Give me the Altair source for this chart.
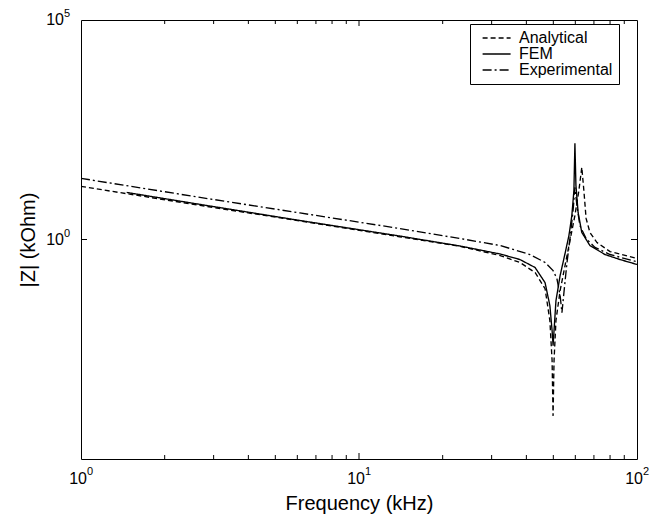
import altair as alt
import pandas as pd

# ---- data (frequency in kHz, |Z| in kOhm) ----
series_names = ["Analytical", "FEM", "Experimental"]

analytical_f = [1.0, 2.68, 6.13, 14.0, 23.1, 32.2, 37.9, 43.0, 46.7, 48.6, 49.5, 49.9,
                50.3, 51.1, 52.9, 55.1, 57.4, 59.8, 61.8, 63.3, 64.4, 65.6, 67.7, 71.8,
                80.0, 100.0]
analytical_z = [16.2, 6.0, 2.64, 1.15, 0.70, 0.43, 0.30, 0.177, 0.076, 0.0142, 0.00173, 0.000096,
                0.00173, 0.0142, 0.0685, 0.255, 0.95, 3.53, 13.1, 44.0, 13.1, 3.02, 1.45, 0.85,
                0.53, 0.37]

fem_f = [1.46, 2.68, 6.13, 14.0, 23.1, 32.2, 37.9, 43.0, 46.7, 48.6, 49.5, 49.9,
         50.3, 51.1, 52.9, 55.1, 56.9, 58.3, 59.3, 59.8, 60.3, 61.4, 63.3, 67.7,
         76.7, 86.8, 100.0]
fem_z = [11.8, 6.3, 2.71, 1.20, 0.71, 0.467, 0.35, 0.23, 0.104, 0.031, 0.0084, 0.0038,
         0.0084, 0.040, 0.151, 0.48, 1.23, 3.53, 13.1, 156.0, 17.1, 4.13, 1.45, 0.73,
         0.455, 0.35, 0.27]

exp_f = [1.0, 2.68, 6.13, 14.0, 23.1, 32.2, 41.2, 46.7, 49.9, 51.5, 52.9, 53.7,
         54.6, 56.0, 57.4, 58.9, 59.8, 60.8, 62.3, 65.6, 70.6, 80.0, 100.0]
exp_z = [24.7, 9.1, 4.03, 1.78, 1.05, 0.73, 0.455, 0.30, 0.196, 0.129, 0.053, 0.0216,
         0.062, 0.30, 1.05, 4.59, 15.4, 5.97, 2.09, 1.05, 0.66, 0.455, 0.31]

# axis ticks and tick labels (base 10 with superscript exponent)
x_minor_ticks = [2, 3, 4, 5, 6, 7, 8, 9, 20, 30, 40, 50, 60, 70, 80, 90]
x_major_ticks = [10]
y_ticks = [1]
x_label_values = [1, 10, 100]
x_label_base = ["10", "10", "10"]
x_label_exp = ["0", "1", "2"]
y_label_values = [1, 100000]
y_label_base = ["10", "10"]
y_label_exp = ["0", "5"]

rows = []
for name, fs, zs in [("Analytical", analytical_f, analytical_z),
                     ("FEM", fem_f, fem_z),
                     ("Experimental", exp_f, exp_z)]:
    for i, (f, z) in enumerate(zip(fs, zs)):
        rows.append({"series": name, "f": f, "z": z, "i": i})
df = pd.DataFrame(rows)

W, H = 556, 439
FONT = "Liberation Sans"

xscale = alt.Scale(type="log", domain=[1, 100], nice=False)
yscale = alt.Scale(type="log", domain=[1e-5, 1e5], nice=False)

xaxis = alt.Axis(values=[1, 10, 100], ticks=False, domain=False, grid=False, labels=False,
                 title="Frequency (kHz)", titleFont=FONT, titleFontSize=20,
                 titleFontWeight="normal", titleColor="black", titlePadding=34)
yaxis = alt.Axis(values=[1, 100000], ticks=False, domain=False, grid=False, labels=False,
                 title="|Z| (kOhm)", titleFont=FONT, titleFontSize=20,
                 titleFontWeight="normal", titleColor="black", titlePadding=43)

lines = alt.Chart(df).mark_line(color="black", strokeWidth=1.35, clip=True).encode(
    x=alt.X("f:Q", scale=xscale, axis=xaxis),
    y=alt.Y("z:Q", scale=yscale, axis=yaxis),
    strokeDash=alt.StrokeDash("series:N",
                              scale=alt.Scale(domain=series_names,
                                              range=[[5, 3], [1, 0], [9, 3, 2, 3]]),
                              legend=alt.Legend(title=None, orient="none", legendX=389, legendY=4,
                                                symbolType="M-0.2,0H3.8", symbolStrokeColor="black",
                                                symbolStrokeWidth=1.3, symbolSize=196,
                                                labelFont=FONT, labelFontSize=16, labelColor="black",
                                                labelExpr="datum.label + '        '",
                                                strokeColor="black", fillColor="white",
                                                padding=6, rowPadding=-1, labelOffset=27)),
    order="i:Q",
)

tick_df_minor = pd.DataFrame({"f": x_minor_ticks})
tick_df_major = pd.DataFrame({"f": x_major_ticks})
ytick_df = pd.DataFrame({"z": y_ticks})

def xticks(data, length):
    base = alt.Chart(data)
    bottom = base.mark_rule(color="black", strokeWidth=1).encode(
        x=alt.X("f:Q", scale=xscale, axis=xaxis), y=alt.value(H), y2=alt.value(H - length))
    top = base.mark_rule(color="black", strokeWidth=1).encode(
        x=alt.X("f:Q", scale=xscale, axis=xaxis), y=alt.value(0), y2=alt.value(length))
    return bottom + top

yt = alt.Chart(ytick_df)
yleft = yt.mark_rule(color="black", strokeWidth=1).encode(
    y=alt.Y("z:Q", scale=yscale, axis=yaxis), x=alt.value(0), x2=alt.value(6))
yright = yt.mark_rule(color="black", strokeWidth=1).encode(
    y=alt.Y("z:Q", scale=yscale, axis=yaxis), x=alt.value(W), x2=alt.value(W - 6))

# tick labels as text: base "10" plus a raised, smaller exponent
xl_df = pd.DataFrame({"f": x_label_values, "b": x_label_base, "e": x_label_exp})
yl_df = pd.DataFrame({"z": y_label_values, "b": y_label_base, "e": y_label_exp})

xl_base = alt.Chart(xl_df).mark_text(font=FONT, fontSize=16, color="black", align="right",
                                     baseline="middle", dx=6).encode(
    x=alt.X("f:Q", scale=xscale, axis=xaxis), y=alt.value(H + 20), text="b:N")
xl_exp = alt.Chart(xl_df).mark_text(font=FONT, fontSize=11, color="black", align="left",
                                    baseline="middle", dx=6).encode(
    x=alt.X("f:Q", scale=xscale, axis=xaxis), y=alt.value(H + 13), text="e:N")
yl_base = alt.Chart(yl_df).mark_text(font=FONT, fontSize=16, color="black", align="right",
                                     baseline="middle", dx=-17).encode(
    y=alt.Y("z:Q", scale=yscale, axis=yaxis), x=alt.value(0), text="b:N")
yl_exp = alt.Chart(yl_df).mark_text(font=FONT, fontSize=11, color="black", align="left",
                                    baseline="middle", dx=-17, dy=-6).encode(
    y=alt.Y("z:Q", scale=yscale, axis=yaxis), x=alt.value(0), text="e:N")

chart = alt.layer(lines, xticks(tick_df_minor, 4), xticks(tick_df_major, 6), yleft, yright,
                  xl_base, xl_exp, yl_base, yl_exp).properties(
    width=W, height=H,
    padding={"left": 10, "top": 0, "right": 5, "bottom": 5},
    background="white",
).configure_view(stroke="black", strokeWidth=1)

chart.save("out.html", embed_options={"renderer": "svg", "actions": False})
